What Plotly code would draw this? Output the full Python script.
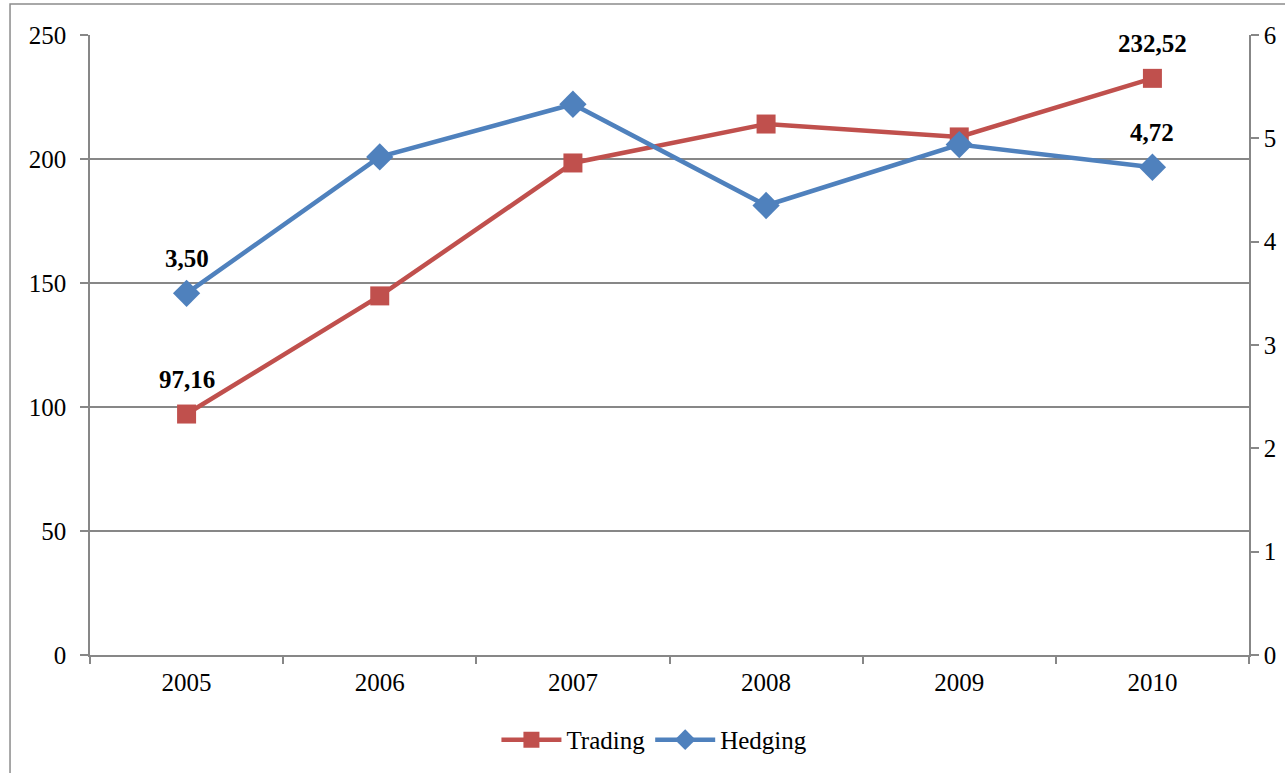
import plotly.graph_objects as go

# Annual figures
years = ["2005", "2006", "2007", "2008", "2009", "2010"]
trading = [97.16, 144.8, 198.4, 214.1, 208.9, 232.52]
hedging = [3.50, 4.82, 5.33, 4.35, 4.94, 4.72]

left_ticks = [0, 50, 100, 150, 200, 250]
right_ticks = [0, 1, 2, 3, 4, 5, 6]

RED = "#C0504D"
BLUE = "#4F81BD"
GRID = "#878787"
FONT = "Liberation Serif, Times New Roman, serif"

fig = go.Figure()

fig.add_trace(go.Scatter(
    x=years, y=trading, name="Trading", mode="lines+markers",
    line=dict(color=RED, width=4.5),
    marker=dict(symbol="square", size=19, color=RED),
    yaxis="y",
))
fig.add_trace(go.Scatter(
    x=years, y=hedging, name="Hedging", mode="lines+markers",
    line=dict(color=BLUE, width=4.5),
    marker=dict(symbol="diamond", size=21, color=BLUE),
    yaxis="y2",
))

# Value labels on the first and last points of each series
# (category axes position annotations by category index)
for i in (0, len(years) - 1):
    fig.add_annotation(x=i, y=trading[i], xref="x", yref="y",
                       text=f"{trading[i]:.2f}".replace(".", ","),
                       showarrow=False, yshift=35,
                       font=dict(family=FONT, size=25, color="black", weight="bold"))
    fig.add_annotation(x=i, y=hedging[i], xref="x", yref="y2",
                       text=f"{hedging[i]:.2f}".replace(".", ","),
                       showarrow=False, yshift=35,
                       font=dict(family=FONT, size=25, color="black", weight="bold"))

# Outer chart frame
fig.add_shape(type="rect", xref="paper", yref="paper",
              x0=-0.069, x1=1.06, y0=-0.25, y1=1.05,
              line=dict(color="#8c8c8c", width=1.5), fillcolor="rgba(0,0,0,0)",
              layer="below")

fig.update_layout(
    width=1285, height=773,
    margin=dict(l=90, r=36, t=35, b=118, autoexpand=False),
    paper_bgcolor="white", plot_bgcolor="white",
    font=dict(family=FONT, size=25, color="black"),
    showlegend=True,
    legend=dict(orientation="h", x=0.487, xanchor="center", y=-0.137, yanchor="middle",
                font=dict(family=FONT, size=25, color="black"),
                itemwidth=60, tracegroupgap=0, bgcolor="rgba(0,0,0,0)"),
    xaxis=dict(
        type="category", tickson="boundaries", ticks="outside", ticklen=7,
        tickcolor=GRID, tickwidth=1.5, showgrid=False,
        showline=True, linecolor=GRID, linewidth=1.5,
        range=[-0.5, 5.5], ticklabelstandoff=4,
        tickfont=dict(family=FONT, size=25, color="black"),
    ),
    yaxis=dict(
        range=[0, 250], tickvals=left_ticks, ticks="outside", ticklen=8,
        tickcolor=GRID, tickwidth=1.5,
        showgrid=True, gridcolor=GRID, gridwidth=1.5,
        showline=True, linecolor=GRID, linewidth=1.5, zeroline=False,
        ticklabelstandoff=9,
        tickfont=dict(family=FONT, size=25, color="black"),
    ),
    yaxis2=dict(
        range=[0, 6], tickvals=right_ticks, overlaying="y", side="right",
        ticks="outside", ticklen=8, tickcolor=GRID, tickwidth=1.5,
        showgrid=False, showline=True, linecolor=GRID, linewidth=1.5,
        zeroline=False, ticklabelstandoff=0,
        tickfont=dict(family=FONT, size=25, color="black"),
    ),
)

fig.write_html("out.html")
